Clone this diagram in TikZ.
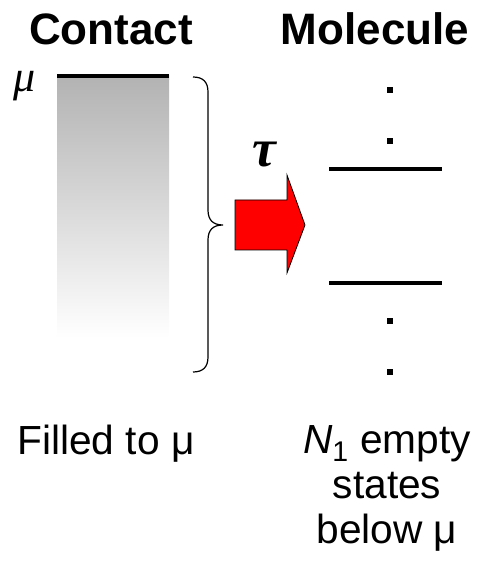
\documentclass[tikz,border=0pt]{standalone}
\usepackage{fontspec}
\setmainfont{Liberation Sans}
\newfontfamily\greekfont{Liberation Serif}
\usetikzlibrary{positioning}

\tikzset{
    title/.style={font=\fontsize{33}{36}\selectfont\bfseries},
    caption/.style={font=\fontsize{30.5}{33.75}\selectfont, align=center, inner sep=0pt, anchor=north},
    level/.style={line width=2.4pt}
}

\begin{document}
\begin{tikzpicture}[x=0.75pt,y=0.75pt]
\useasboundingbox (0,0) rectangle (485,562);

% Titles
\node[title] (contact) at (111,533) {Contact};
\node[title] (molecule) at (375,533) {Molecule};

% Contact, filled up to mu
\shade[top color=black!30, bottom color=white] (57,224) rectangle (169,486);
\draw[line width=3pt] (57,486) -- (169,486);
\node[font=\fontsize{33}{36}\selectfont\greekfont\itshape, inner sep=0pt] (mu) at (25,476) {μ};

% Brace
\draw[line width=0.9pt] (193,485) .. controls (203,485) and (208,480) .. (208,470)
    -- (208,352) .. controls (208,342) and (213,337) .. (223,337)
    .. controls (213,337) and (208,332) .. (208,322)
    -- (208,205) .. controls (208,195) and (203,190) .. (193,190);

% Coupling arrow
\draw[fill=red, line width=0.6pt] (235,362) -- (287,362) -- (287,387) -- (305,337)
    -- (287,289) -- (287,312) -- (235,312) -- cycle;
\node[font=\fontsize{40}{44}\selectfont\greekfont\bfseries\itshape, inner sep=0pt] (tau) at (264,407) {τ};

% Molecule levels
\draw[level] (329,393) -- (442,393);
\draw[level] (329,279) -- (442,279);
\foreach \y in {472,421,241,190} {
    \fill (387,\y-3) rectangle ++(6,6);
}

% Captions
\node[caption] (filled) at (106,137) {Filled to μ};
\node[caption] (empty) at (387,137) {\textit{N}\textsubscript{1} empty\\states\\below μ};

\end{tikzpicture}
\end{document}
